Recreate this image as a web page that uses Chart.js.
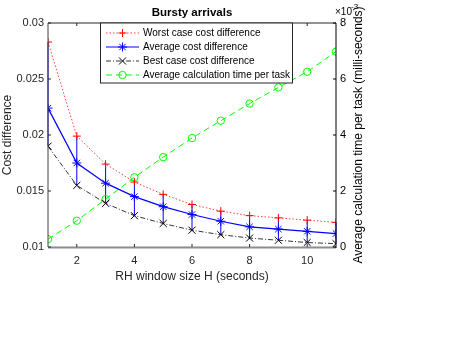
<!DOCTYPE html>
<html>
<head>
<meta charset="utf-8">
<script src="https://cdn.jsdelivr.net/npm/chart.js@4.4.1/dist/chart.umd.min.js"></script>
<style>
html,body{margin:0;padding:0;background:#fff;}
#wrap{width:463px;height:348px;position:relative;}
</style>
</head>
<body>
<div id="wrap"><canvas id="c" width="463" height="348"></canvas></div>
<script>
// ---- data ----
const windowSizes = [1, 2, 3, 4, 5, 6, 7, 8, 9, 10, 11];
const worstCase = [0.0283, 0.0199, 0.0174, 0.0158, 0.0147, 0.0138, 0.0132, 0.0128, 0.0126, 0.0124, 0.0122];
const averageCase = [0.0224, 0.0175, 0.0157, 0.0145, 0.0136, 0.0129, 0.0123, 0.0118, 0.0116, 0.0114, 0.0112];
const bestCase = [0.0190, 0.0155, 0.0139, 0.0128, 0.0121, 0.0115, 0.0111, 0.0108, 0.0106, 0.0104, 0.0103];
const calcTime = [0.28, 0.94, 1.71, 2.49, 3.21, 3.89, 4.51, 5.12, 5.70, 6.26, 6.98]; // x10^-3 ms
const xTicks = [2, 4, 6, 8, 10];
const leftTicks = [0.01, 0.015, 0.02, 0.025, 0.03];
const rightTicks = [0, 2, 4, 6, 8];
const seriesNames = ['Worst case cost difference', 'Average cost difference', 'Best case cost difference', 'Average calculation time per task'];
const chartTitle = 'Bursty arrivals';
const xTitle = 'RH window size H (seconds)';
const yTitle = 'Cost difference';
const y1Title = 'Average calculation time per task (milli-seconds)';

const pts = arr => windowSizes.map((x, i) => ({x: x, y: arr[i]}));
const FONT = 'Liberation Sans, Arial, Helvetica, sans-serif';

const datasets = [
  {label: seriesNames[0], data: pts(worstCase), yAxisID: 'y', borderColor: 'rgba(255,0,0,0.75)', borderWidth: 1, borderDash: [1.5, 2],
   pointStyle: 'cross', pointRadius: 4, pointBorderColor: '#ff0000', pointBorderWidth: 1, pointBackgroundColor: 'rgba(0,0,0,0)'},
  {label: seriesNames[1], data: pts(averageCase), yAxisID: 'y', borderColor: '#0000ff', borderWidth: 1.2,
   pointStyle: 'star', pointRadius: 4.5, pointBorderColor: '#0000ff', pointBorderWidth: 1, pointBackgroundColor: 'rgba(0,0,0,0)'},
  {label: seriesNames[2], data: pts(bestCase), yAxisID: 'y', borderColor: '#000000', borderWidth: 0.8, borderDash: [5, 2, 1, 2],
   pointStyle: 'crossRot', pointRadius: 5, pointBorderColor: '#000000', pointBorderWidth: 1, pointBackgroundColor: 'rgba(0,0,0,0)'},
  {label: seriesNames[3], data: pts(calcTime), yAxisID: 'y1', borderColor: '#00ff00', borderWidth: 1, borderDash: [6, 4],
   pointStyle: 'circle', pointRadius: 3.7, pointBorderColor: '#00ff00', pointBorderWidth: 1, pointBackgroundColor: 'rgba(0,0,0,0)'}
];

function line(ctx, x1, y1, x2, y2) { ctx.beginPath(); ctx.moveTo(x1, y1); ctx.lineTo(x2, y2); ctx.stroke(); }

const customPlugin = {
  id: 'matlabStyle',
  beforeDatasetsDraw(chart) {
    const ctx = chart.ctx, xs = chart.scales.x, ys = chart.scales.y;
    ctx.save();
    ctx.strokeStyle = '#0000ff';
    ctx.lineWidth = 1;
    windowSizes.forEach((x, i) => {
      const px = xs.getPixelForValue(x);
      line(ctx, px, ys.getPixelForValue(worstCase[i]), px, ys.getPixelForValue(bestCase[i]));
    });
    ctx.restore();
  },
  afterDraw(chart) {
    const ctx = chart.ctx, a = chart.chartArea;
    const xs = chart.scales.x, ys = chart.scales.y, y1 = chart.scales.y1;
    ctx.save();
    // frame
    ctx.lineWidth = 1;
    ctx.strokeStyle = '#262626';
    line(ctx, a.left, a.top, a.right, a.top);
    ctx.strokeStyle = '#404040';
    line(ctx, a.left, a.top, a.left, a.bottom);
    ctx.strokeStyle = '#8c8c8c';
    ctx.lineWidth = 2;
    line(ctx, a.left, a.bottom + 0.5, a.right, a.bottom + 0.5);
    ctx.lineWidth = 1;
    ctx.strokeStyle = '#000000';
    line(ctx, a.right, a.top, a.right, a.bottom + 1);
    // inward ticks
    const tl = 3;
    ctx.strokeStyle = '#262626';
    xTicks.forEach(v => {
      const p = xs.getPixelForValue(v);
      line(ctx, p, a.bottom, p, a.bottom - tl);
      line(ctx, p, a.top, p, a.top + tl);
    });
    leftTicks.forEach(v => {
      const p = ys.getPixelForValue(v);
      line(ctx, a.left, p, a.left + tl, p);
    });
    ctx.strokeStyle = '#000000';
    rightTicks.forEach(v => {
      const p = y1.getPixelForValue(v);
      line(ctx, a.right, p, a.right - tl, p);
    });
    // titles
    const cx = (a.left + a.right) / 2, cy = (a.top + a.bottom) / 2;
    ctx.fillStyle = '#000';
    ctx.textAlign = 'center';
    ctx.textBaseline = 'middle';
    ctx.font = 'bold 11.5px ' + FONT;
    ctx.fillText(chartTitle, cx, 13);
    ctx.fillStyle = '#262626';
    ctx.font = '12px ' + FONT;
    ctx.fillText(xTitle, cx, 277);
    ctx.save();
    ctx.translate(8, cy);
    ctx.rotate(-Math.PI / 2);
    ctx.fillText(yTitle, 0, 0);
    ctx.restore();
    ctx.save();
    ctx.fillStyle = '#000';
    ctx.translate(359, cy);
    ctx.rotate(-Math.PI / 2);
    ctx.fillText(y1Title, 0, 0);
    ctx.restore();
    // exponent
    ctx.fillStyle = '#000';
    ctx.textAlign = 'left';
    ctx.font = '10px ' + FONT;
    ctx.fillText('\u00d710', 335, 12);
    ctx.font = '8px ' + FONT;
    ctx.fillText('-3', 351, 7);
    // legend
    const lx = 100.5, ly = 23, lw = 192, lh = 60;
    ctx.fillStyle = '#fff';
    ctx.fillRect(lx, ly, lw, lh);
    ctx.strokeStyle = '#262626';
    ctx.lineWidth = 1;
    ctx.strokeRect(lx, ly, lw, lh);
    const rows = [33, 47, 61, 75];
    ctx.font = '10px ' + FONT;
    ctx.textBaseline = 'middle';
    chart.data.datasets.forEach((ds, i) => {
      const yy = rows[i];
      ctx.save();
      ctx.strokeStyle = ds.borderColor;
      ctx.lineWidth = ds.borderWidth;
      ctx.setLineDash(ds.borderDash || []);
      line(ctx, 106, yy, 139, yy);
      ctx.restore();
      ctx.save();
      ctx.strokeStyle = ds.pointBorderColor;
      ctx.fillStyle = 'rgba(0,0,0,0)';
      ctx.lineWidth = 1;
      Chart.helpers.drawPoint(ctx, {pointStyle: ds.pointStyle, radius: ds.pointRadius, borderWidth: 1, rotation: 0}, 122.5, yy);
      ctx.restore();
      ctx.fillStyle = '#000';
      ctx.textAlign = 'left';
      ctx.fillText(ds.label, 143, yy + 0.5);
    });
    ctx.restore();
  }
};

new Chart(document.getElementById('c'), {
  type: 'line',
  data: {datasets: datasets},
  options: {
    responsive: false,
    animation: false,
    devicePixelRatio: 1,
    layout: {padding: {top: 23, left: 0, right: 0, bottom: 0}},
    plugins: {legend: {display: false}, title: {display: false}, tooltip: {enabled: false}},
    scales: {
      x: {
        type: 'linear', min: 1, max: 11,
        grid: {display: false, drawTicks: false}, border: {display: false},
        afterBuildTicks: s => { s.ticks = xTicks.map(v => ({value: v})); },
        afterFit: s => { s.height = 101; },
        ticks: {color: '#262626', font: {family: FONT, size: 11}, padding: 7, maxRotation: 0, callback: v => String(v)}
      },
      y: {
        type: 'linear', position: 'left', min: 0.01, max: 0.03,
        grid: {display: false, drawTicks: false}, border: {display: false},
        afterBuildTicks: s => { s.ticks = leftTicks.map(v => ({value: v})); },
        afterFit: s => { s.width = 48; },
        ticks: {color: '#262626', font: {family: FONT, size: 11}, padding: 4, callback: v => String(v)}
      },
      y1: {
        type: 'linear', position: 'right', min: 0, max: 8,
        grid: {display: false, drawTicks: false}, border: {display: false},
        afterBuildTicks: s => { s.ticks = rightTicks.map(v => ({value: v})); },
        afterFit: s => { s.width = 127; },
        ticks: {color: '#000', font: {family: FONT, size: 11}, padding: 4, callback: v => String(v)}
      }
    }
  },
  plugins: [customPlugin]
});
</script>
</body>
</html>
